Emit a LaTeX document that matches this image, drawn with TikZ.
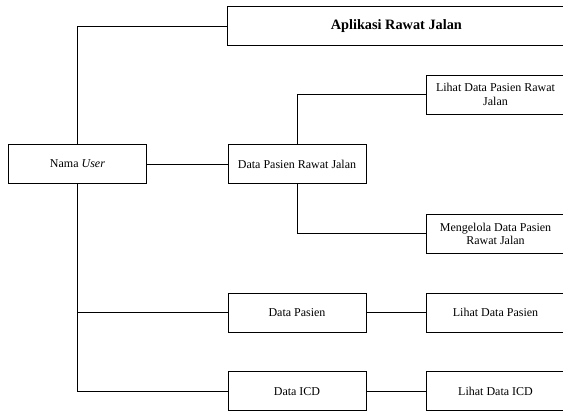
\documentclass[tikz,border=0pt]{standalone}
\usepackage{fontspec}
\setmainfont{Liberation Serif}
\begin{document}
\begin{tikzpicture}[x=1pt,y=-1pt,
  box/.style={draw=black,line width=0.9pt,rectangle,inner sep=0pt,outer sep=0pt,
    minimum height=39pt,align=center,font=\fontsize{12}{13.8}\selectfont},
  midbox/.style={box,minimum width=138pt},
  rbox/.style={box,minimum width=139pt},
  conn/.style={draw=black,line width=0.9pt}]
\clip (0,0) rectangle (563,412);
\fill[white] (0,0) rectangle (563,412);
\node[box,minimum width=337.3pt,font=\fontsize{14.3}{16}\selectfont\bfseries] (app) at (396.35,26.4) {Aplikasi Rawat Jalan};
\node[rbox] (lihat1) at (495.5,94.7) {Lihat Data Pasien Rawat\\Jalan};
\node[midbox,minimum width=138.4pt] (nama) at (77.5,164) {Nama \textit{User}};
\node[midbox] (dprj) at (297,164) {Data Pasien Rawat Jalan};
\node[rbox] (kelola) at (495.5,233.8) {Mengelola Data Pasien\\Rawat Jalan};
\node[midbox] (dp) at (297,312.8) {Data Pasien};
\node[rbox] (ldp) at (495.5,312.8) {Lihat Data Pasien};
\node[midbox] (icd) at (297,391.2) {Data ICD};
\node[rbox] (licd) at (495.5,391.2) {Lihat Data ICD};
\draw[conn] (nama.north) |- (app.west);
\draw[conn] (nama.east) -- (dprj.west);
\draw[conn] (nama.south) |- (dp.west);
\draw[conn] (nama.south) |- (icd.west);
\draw[conn] (dprj.north) |- (lihat1.west);
\draw[conn] (dprj.south) |- (kelola.west);
\draw[conn] (dp.east) -- (ldp.west);
\draw[conn] (icd.east) -- (licd.west);
\end{tikzpicture}
\end{document}
